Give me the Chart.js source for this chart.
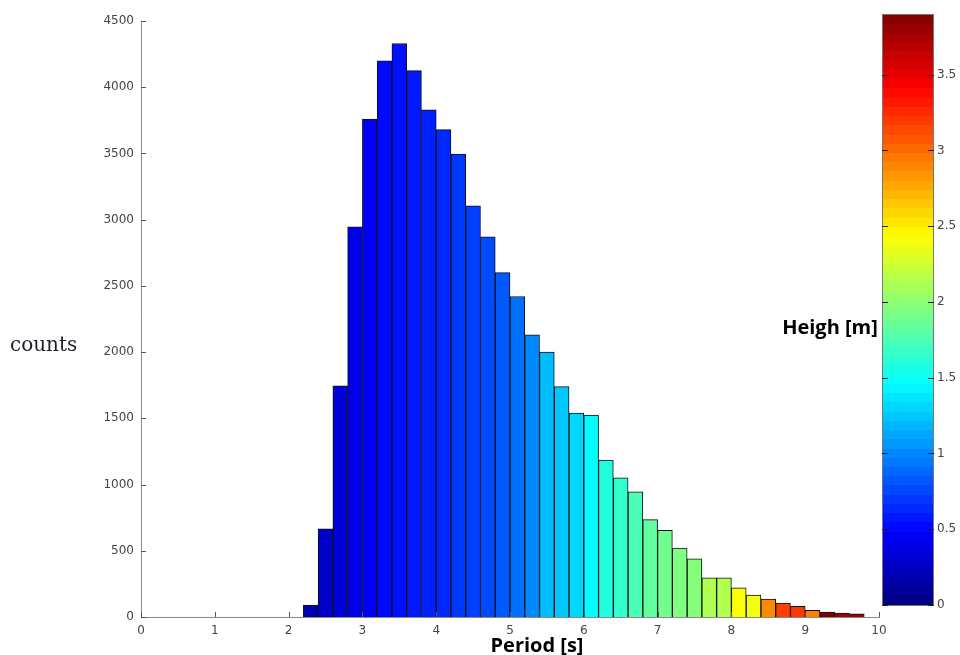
<!DOCTYPE html>
<html>
<head>
<meta charset="utf-8">
<script src="https://cdn.jsdelivr.net/npm/chart.js@4.4.1/dist/chart.umd.min.js"></script>
<style>
  html, body { margin: 0; padding: 0; background: #fff; }
  #wrap { width: 960px; height: 655px; }
</style>
</head>
<body>
<div id="wrap"><canvas id="hist" width="960" height="655"></canvas></div>
<script>
// histogram of wave periods, 0.2 s bins (bin centres)
const periodBins = [2.3, 2.5, 2.7, 2.9, 3.1, 3.3, 3.5, 3.7, 3.9, 4.1,
                    4.3, 4.5, 4.7, 4.9, 5.1, 5.3, 5.5, 5.7, 5.9, 6.1,
                    6.3, 6.5, 6.7, 6.9, 7.1, 7.3, 7.5, 7.7, 7.9, 8.1,
                    8.3, 8.5, 8.7, 8.9, 9.1, 9.3, 9.5, 9.7];
const counts = [90, 665, 1745, 2945, 3760, 4200, 4330, 4125, 3830, 3680,
                3495, 3105, 2870, 2600, 2420, 2130, 2000, 1740, 1540, 1525,
                1185, 1050, 945, 735, 655, 520, 440, 295, 295, 220,
                165, 135, 105, 80, 50, 38, 30, 23];
// mean wave height in each bin [m], used for the bar colour
const meanHeight = [0.19, 0.28, 0.34, 0.40, 0.46, 0.52, 0.55, 0.58, 0.61, 0.64,
                    0.70, 0.73, 0.77, 0.83, 0.92, 1.01, 1.21, 1.25, 1.31, 1.46,
                    1.58, 1.65, 1.74, 1.83, 1.89, 1.95, 1.97, 2.13, 2.14, 2.43,
                    2.38, 2.89, 3.17, 3.20, 2.93, 3.90, 3.77, 3.77];

const periodTicks = [0, 1, 2, 3, 4, 5, 6, 7, 8, 9, 10];
const countTicks = [0, 500, 1000, 1500, 2000, 2500, 3000, 3500, 4000, 4500];
const heightTicks = [0, 0.5, 1, 1.5, 2, 2.5, 3, 3.5];
const heightMax = 3.9;

// matlab style jet colormap
function jet(v) {
  const t = Math.min(Math.max(v / heightMax, 0), 1);
  const c = x => Math.round(255 * Math.min(Math.max(1.5 - Math.abs(x), 0), 1));
  return `rgb(${c(4 * t - 3)},${c(4 * t - 2)},${c(4 * t - 1)})`;
}

const tickFont = { family: 'DejaVu Sans', size: 12 };
const tickColor = '#444';
const axisColor = '#8a8a8a';

// inward tick marks, axis labels and the colour bar
const decorations = {
  id: 'decorations',
  afterDraw(chart) {
    const { ctx, scales: { x, y } } = chart;
    const area = chart.chartArea;
    ctx.save();
    ctx.strokeStyle = '#555';
    ctx.lineWidth = 1;
    ctx.beginPath();
    countTicks.forEach(v => {
      const py = Math.round(y.getPixelForValue(v)) + 0.5;
      ctx.moveTo(area.left, py); ctx.lineTo(area.left + 5, py);
    });
    periodTicks.forEach(v => {
      const px = Math.round(x.getPixelForValue(v)) + 0.5;
      ctx.moveTo(px, area.bottom); ctx.lineTo(px, area.bottom - 5);
    });
    ctx.stroke();

    // axis titles
    ctx.fillStyle = '#1e1e2a';
    ctx.font = '20px "DejaVu Serif"';
    ctx.textBaseline = 'middle';
    ctx.textAlign = 'left';
    ctx.fillText('counts', 10, 346);
    ctx.fillStyle = '#000';
    ctx.font = 'bold 20px "Open Sans"';
    ctx.textAlign = 'center';
    ctx.fillText('Period [s]', 537, 646);
    ctx.fillText('Heigh [m]', 830, 328);

    // colour bar
    const cbL = 882, cbR = 934, cbTop = 14, cbBottom = 605;
    const pxPerM = (cbBottom - cbTop) / heightMax;
    const steps = 64;
    for (let i = 0; i < steps; i++) {
      const h0 = heightMax * i / steps, h1 = heightMax * (i + 1) / steps;
      ctx.fillStyle = jet((h0 + h1) / 2);
      const y0 = cbBottom - h1 * pxPerM, y1 = cbBottom - h0 * pxPerM;
      ctx.fillRect(cbL, Math.floor(y0), cbR - cbL, Math.ceil(y1) - Math.floor(y0));
    }
    ctx.strokeStyle = '#777';
    ctx.strokeRect(cbL + 0.5, cbTop + 0.5, cbR - cbL - 1, cbBottom - cbTop);
    ctx.strokeStyle = '#222';
    ctx.beginPath();
    heightTicks.forEach(h => {
      const py = Math.round(cbBottom - h * pxPerM) + 0.5;
      ctx.moveTo(cbL, py); ctx.lineTo(cbL + 6, py);
      ctx.moveTo(cbR - 6, py); ctx.lineTo(cbR, py);
    });
    ctx.stroke();
    ctx.fillStyle = tickColor;
    ctx.font = '12px "DejaVu Sans"';
    ctx.textAlign = 'left';
    heightTicks.forEach(h => {
      ctx.fillText(String(h), cbR + 3, cbBottom - h * pxPerM);
    });
    ctx.restore();
  }
};

new Chart(document.getElementById('hist'), {
  type: 'bar',
  data: {
    datasets: [{
      data: periodBins.map((p, i) => ({ x: p, y: counts[i] })),
      backgroundColor: meanHeight.map(jet),
      borderColor: '#111',
      borderWidth: 1,
      barPercentage: 1,
      categoryPercentage: 1
    }]
  },
  options: {
    responsive: false,
    animation: false,
    layout: { padding: { left: 0, right: 81, top: 21, bottom: 0 } },
    plugins: { legend: { display: false }, tooltip: { enabled: false } },
    scales: {
      x: {
        type: 'linear',
        min: 0, max: 10,
        offset: false,
        afterBuildTicks: s => { s.ticks = periodTicks.map(v => ({ value: v })); },
        afterFit: s => { s.height = 38; },
        grid: { display: false, drawTicks: false, offset: false },
        border: { display: true, color: axisColor },
        ticks: { font: tickFont, color: tickColor, padding: 7, maxRotation: 0,
                 callback: v => String(v) }
      },
      y: {
        min: 0, max: 4500,
        afterBuildTicks: s => { s.ticks = countTicks.map(v => ({ value: v })); },
        afterFit: s => { s.width = 141; },
        grid: { display: false, drawTicks: false },
        border: { display: true, color: axisColor },
        ticks: { font: tickFont, color: tickColor, padding: 7,
                 callback: v => String(v) }
      }
    }
  },
  plugins: [decorations]
});
</script>
</body>
</html>
